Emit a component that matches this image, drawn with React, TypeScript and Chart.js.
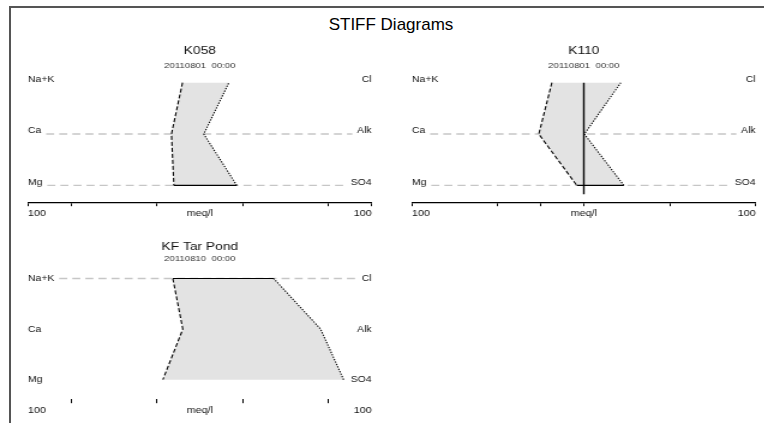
import React, { useEffect, useRef } from 'react';
import { Chart, registerables } from 'chart.js';

Chart.register(...registerables);

const S = 1.2; // horizontal stretch of the panels
const FONT = "'Liberation Sans', Arial, sans-serif";

// ---- data ----
const CATION_LABELS = ['Na+K', 'Ca', 'Mg'];
const ANION_LABELS = ['Cl', 'Alk', 'SO4'];
const ROW_POS = [2, 1, 0];
const AXIS_LABEL_POS = [-100, 0, 100];
const AXIS_LABELS = ['100', 'meq/l', '100'];

const K058_CATIONS = [10.1, 16.5, 15.1];
const K058_ANIONS = [16.9, 2.3, 21.5];
const K058_TICKS = [-100, -75, -25, 25, 75, 100];

const K110_CATIONS = [18.6, 26.2, 4.1];
const K110_ANIONS = [21.5, 0.3, 23.3];
const K110_TICKS = [-100, -50, -25, 0, 50, 100];
const K110_CENTER_LINE = [2, -0.17];

const KF_CATIONS = [15.7, 9.9, 21.5];
const KF_ANIONS = [43.0, 70.3, 83.7];
const KF_TICKS = [-75, -25, 25, 75];

type PanelProps = {
  title: string;
  subtitle: string;
  cations: number[];
  anions: number[];
  ticks: number[];
  dashedRows: number[];
  solidEdge: 'top' | 'bottom';
  axisLine: boolean;
  centerLine?: number[];
  yMin: number;
  yMax: number;
  titlePadTop: number;
  subPadTop: number;
  subPadBottom: number;
  labelDy: number;
  left: number;
  top: number;
  height: number;
};

const rowPlugin = {
  id: 'rows',
  beforeDatasetsDraw(chart: any, _args: any, opts: any) {
    const { ctx, chartArea: a } = chart;
    const y = chart.scales.y;
    ctx.save();
    ctx.font = `8.7px ${FONT}`;
    ctx.textBaseline = 'middle';
    ROW_POS.forEach((r, i) => {
      const py = y.getPixelForValue(r);
      if (opts.dashed.includes(i)) {
        const l = a.left + ctx.measureText(CATION_LABELS[i]).width + 4;
        const rr = a.right - ctx.measureText(ANION_LABELS[i]).width - 4;
        ctx.strokeStyle = '#c6c6c6';
        ctx.lineWidth = 1.4;
        ctx.setLineDash([6.7, 4.2]);
        ctx.beginPath();
        ctx.moveTo(l, py);
        ctx.lineTo(rr, py);
        ctx.stroke();
        ctx.setLineDash([]);
      }
      ctx.fillStyle = '#111';
      ctx.textAlign = 'left';
      ctx.fillText(CATION_LABELS[i], a.left, py + opts.dy);
      ctx.textAlign = 'right';
      ctx.fillText(ANION_LABELS[i], a.right, py + opts.dy);
    });
    ctx.restore();
  },
};

const CANVAS_W = 333;
const PAD = 23.33;

function Panel(p: PanelProps) {
  const ref = useRef<HTMLCanvasElement>(null);
  useEffect(() => {
    const canvas = ref.current!;
    const polygon = [
      { x: -p.cations[0], y: ROW_POS[0] },
      { x: -p.cations[1], y: ROW_POS[1] },
      { x: -p.cations[2], y: ROW_POS[2] },
      { x: p.anions[2], y: ROW_POS[2] },
      { x: p.anions[1], y: ROW_POS[1] },
      { x: p.anions[0], y: ROW_POS[0] },
      { x: -p.cations[0], y: ROW_POS[0] },
    ];
    const solidIdx = p.solidEdge === 'bottom' ? 2 : 5;
    const datasets: any[] = [
      {
        data: polygon,
        order: 3,
        fill: 'shape',
        backgroundColor: '#e3e3e3',
        borderWidth: 0,
        borderColor: 'rgba(0,0,0,0)',
        pointRadius: 0,
        tension: 0,
      },
      {
        data: polygon,
        order: 2,
        fill: false,
        borderWidth: 1.1,
        borderColor: '#000',
        pointRadius: 0,
        tension: 0,
        segment: {
          borderColor: (ctx: any) => {
            const i = ctx.p0DataIndex;
            if (i === 2 || i === 5) return i === solidIdx ? '#000' : 'rgba(0,0,0,0)';
            return '#000';
          },
          borderDash: (ctx: any) => {
            const i = ctx.p0DataIndex;
            if (i === 0 || i === 1) return [4, 2];
            if (i === 3 || i === 4) return [1.3, 1.3];
            return [];
          },
        },
      },
    ];
    if (p.centerLine) {
      datasets.push({
        data: p.centerLine.map((v) => ({ x: 0, y: v })),
        order: 1,
        fill: false,
        borderColor: '#000',
        borderWidth: 1.4,
        pointRadius: 0,
      });
    }
    const tickVals = Array.from(new Set([...AXIS_LABEL_POS, ...p.ticks])).sort((a, b) => a - b);
    const chart = new Chart(canvas, {
      type: 'line',
      data: { datasets },
      options: {
        animation: false,
        responsive: false,
        events: [],
        layout: { padding: { left: PAD, right: PAD, top: 0, bottom: 0 } },
        plugins: {
          legend: { display: false },
          tooltip: { enabled: false },
          title: {
            display: true,
            text: p.title,
            color: '#111',
            font: { size: 11.5, family: FONT, weight: 'normal' },
            padding: { top: p.titlePadTop, bottom: 0 },
          },
          subtitle: {
            display: true,
            text: p.subtitle,
            color: '#333',
            font: { size: 8, family: FONT },
            padding: { top: p.subPadTop, bottom: p.subPadBottom },
          },
          rows: { dashed: p.dashedRows, dy: p.labelDy },
        } as any,
        scales: {
          x: {
            type: 'linear',
            min: -100,
            max: 100,
            afterBuildTicks: (axis: any) => {
              axis.ticks = tickVals.map((v) => ({ value: v }));
            },
            ticks: {
              autoSkip: false,
              maxRotation: 0,
              minRotation: 0,
              align: 'inner',
              padding: 2,
              color: '#111',
              font: { size: 9, family: FONT },
              callback: (v: any) => {
                const k = AXIS_LABEL_POS.indexOf(Number(v));
                return k >= 0 ? AXIS_LABELS[k] : '';
              },
            },
            grid: {
              drawOnChartArea: false,
              drawTicks: true,
              tickLength: 4,
              lineWidth: 1,
              tickColor: (ctx: any) =>
                ctx.tick && p.ticks.includes(ctx.tick.value) ? '#000' : 'rgba(0,0,0,0)',
            },
            border: { display: p.axisLine, color: '#000', width: 1.3 },
          } as any,
          y: { type: 'linear', min: p.yMin, max: p.yMax, display: false },
        },
      },
      plugins: [rowPlugin as any],
    });
    return () => chart.destroy();
  }, []);
  return (
    <div
      style={{
        position: 'absolute',
        left: p.left,
        top: p.top,
        width: CANVAS_W,
        height: p.height,
        transform: `scaleX(${S})`,
        transformOrigin: '0 0',
      }}
    >
      <canvas
        ref={ref}
        width={CANVAS_W}
        height={p.height}
        style={{ width: CANVAS_W, height: p.height, display: 'block' }}
      />
    </div>
  );
}

export default function App() {
  return (
    <div
      style={{
        position: 'fixed',
        left: 0,
        top: 0,
        width: 764,
        height: 423,
        background: '#fff',
        overflow: 'hidden',
      }}
    >
      <div
        style={{
          position: 'absolute',
          left: 9,
          top: 6,
          width: 800,
          height: 500,
          borderTop: '2px solid #555',
          borderLeft: '2px solid #555',
        }}
      />
      <div
        style={{
          position: 'absolute',
          left: 291,
          top: 16,
          width: 200,
          textAlign: 'center',
          font: `17px ${FONT}`,
          lineHeight: '18px',
          color: '#000',
        }}
      >
        STIFF Diagrams
      </div>
      <Panel
        title="K058"
        subtitle="20110801  00:00"
        cations={K058_CATIONS}
        anions={K058_ANIONS}
        ticks={K058_TICKS}
        dashedRows={[1, 2]}
        solidEdge="bottom"
        axisLine={true}
        yMin={-0.327}
        yMax={2.08}
        titlePadTop={6.1}
        subPadTop={3.5}
        subPadBottom={7.6}
        labelDy={-3}
        left={0}
        top={38}
        height={183}
      />
      <Panel
        title="K110"
        subtitle="20110801  00:00"
        cations={K110_CATIONS}
        anions={K110_ANIONS}
        ticks={K110_TICKS}
        dashedRows={[1, 2]}
        solidEdge="bottom"
        axisLine={true}
        centerLine={K110_CENTER_LINE}
        yMin={-0.327}
        yMax={2.08}
        titlePadTop={6.1}
        subPadTop={3.5}
        subPadBottom={7.6}
        labelDy={-3}
        left={384}
        top={38}
        height={183}
      />
      <Panel
        title="KF Tar Pond"
        subtitle="20110810  00:00"
        cations={KF_CATIONS}
        anions={KF_ANIONS}
        ticks={KF_TICKS}
        dashedRows={[0]}
        solidEdge="top"
        axisLine={false}
        yMin={-0.386}
        yMax={2.08}
        titlePadTop={6.1}
        subPadTop={0.5}
        subPadBottom={10.5}
        labelDy={0}
        left={0}
        top={234}
        height={184}
      />
    </div>
  );
}
